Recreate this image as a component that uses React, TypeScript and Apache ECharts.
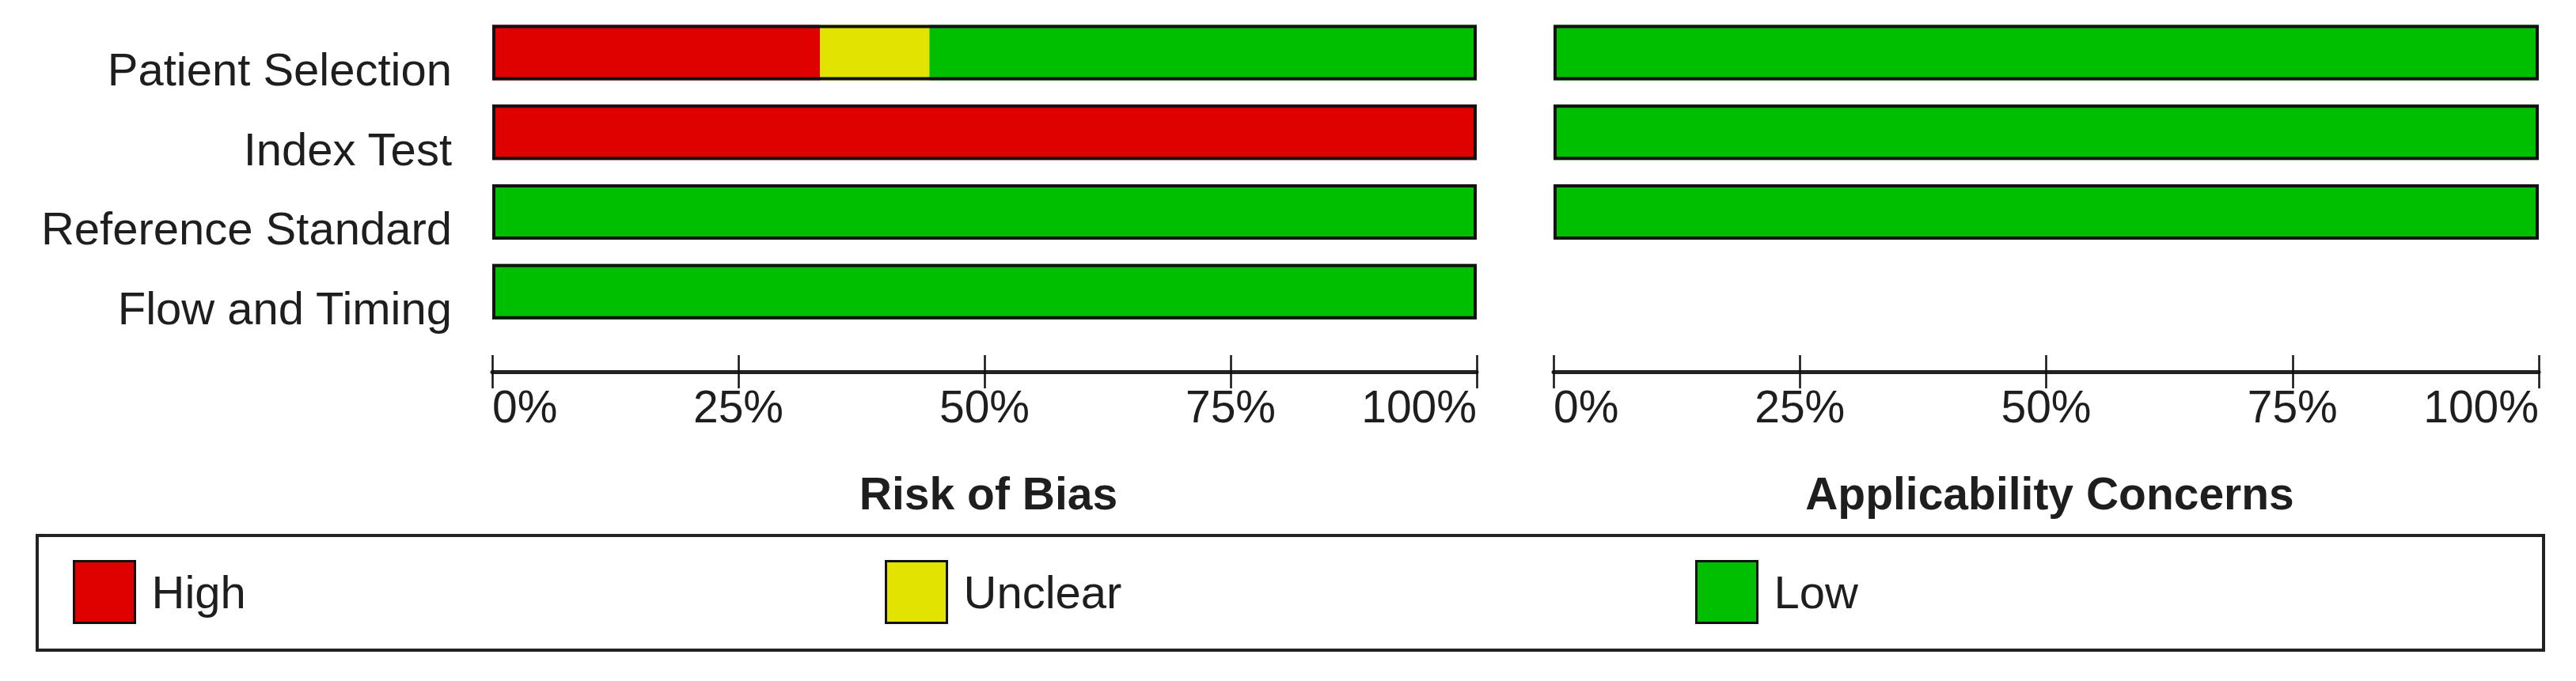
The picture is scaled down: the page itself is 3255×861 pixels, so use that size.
import React, { useEffect, useRef } from "react";
import * as echarts from "echarts";

const categories = ["Patient Selection", "Index Test", "Reference Standard", "Flow and Timing"];
const legendNames = ["High", "Unclear", "Low"];
const robHigh = [33.3, 100, 0, 0];
const robUnclear = [11.1, 0, 0, 0];
const robLow = [55.6, 0, 100, 100];
const acHigh = [0, 0, 0, null];
const acUnclear = [0, 0, 0, null];
const acLow = [100, 100, 100, null];
const tickValues = [0, 25, 50, 75, 100];
const panelTitles = ["Risk of Bias", "Applicability Concerns"];

const COLORS = { High: "#DF0000", Unclear: "#E3E300", Low: "#00BF00" };
const FONT = "'Liberation Sans', Arial, sans-serif";
const TEXT = "#1e1e1e";
const LEGEND_LEFT = [92, 1118, 2142];

const sumOf = (...arrs: (number | null)[][]) =>
  arrs[0].map((_, i) => {
    const vals = arrs.map((a) => a[i]);
    if (vals.every((v) => v === null)) return null;
    return vals.reduce((s: number, v) => s + (v ?? 0), 0);
  });

function mainAxis(g: number) {
  return {
    type: "value",
    gridIndex: g,
    min: tickValues[0],
    max: tickValues[tickValues.length - 1],
    interval: tickValues[1] - tickValues[0],
    position: "bottom",
    offset: 51,
    splitLine: { show: false },
    axisLine: { show: true, lineStyle: { color: "#222", width: 5 } },
    axisTick: { show: true, inside: true, length: 21, lineStyle: { color: "#111", width: 2.5 } },
    axisLabel: {
      formatter: "{value}%",
      fontSize: 57,
      fontFamily: FONT,
      color: TEXT,
      margin: 15,
      alignMinLabel: "left",
      alignMaxLabel: "right",
    },
  };
}

function downAxis(g: number) {
  return {
    type: "value",
    gridIndex: g,
    min: tickValues[0],
    max: tickValues[tickValues.length - 1],
    interval: tickValues[1] - tickValues[0],
    position: "bottom",
    offset: 51,
    splitLine: { show: false },
    axisLine: { show: false },
    axisTick: { show: true, inside: false, length: 21, lineStyle: { color: "#111", width: 2.5 } },
    axisLabel: { show: false },
  };
}

function segSeries(name: string, data: (number | null)[], xi: number, yi: number, stack: string) {
  return {
    type: "bar",
    name,
    data,
    xAxisIndex: xi,
    yAxisIndex: yi,
    stack,
    barWidth: 70,
    barGap: "-100%",
    silent: true,
    itemStyle: { color: (COLORS as any)[name], borderWidth: 0 },
  };
}

function outlineSeries(data: (number | null)[], xi: number, yi: number) {
  return {
    type: "bar",
    name: "outline",
    data,
    xAxisIndex: xi,
    yAxisIndex: yi,
    barWidth: 70,
    barGap: "-100%",
    silent: true,
    z: 3,
    itemStyle: { color: "rgba(0,0,0,0)", borderColor: "#111", borderWidth: 4 },
  };
}

export default function App() {
  const ref = useRef<HTMLDivElement>(null);
  useEffect(() => {
    if (!ref.current) return;
    const chart = echarts.init(ref.current, undefined, { renderer: "svg" });
    const option = {
      animation: false,
      backgroundColor: "#ffffff",
      title: panelTitles.map((t, i) => ({
        text: t,
        left: i === 0 ? 1244 : 2585,
        top: 590,
        textAlign: "center",
        textStyle: { fontSize: 57, fontWeight: "bold", fontFamily: FONT, color: TEXT },
      })),
      legend: legendNames.map((n, i) => ({
        data: [n],
        left: LEGEND_LEFT[i],
        top: 708,
        padding: 0,
        itemWidth: 77,
        itemHeight: 78,
        icon: "rect",
        selectedMode: false,
        itemStyle: { borderColor: "#111", borderWidth: 3 },
        textStyle: { fontSize: 58, fontFamily: FONT, color: TEXT, padding: [8, 0, 0, 16] },
      })),
      graphic: [
        {
          type: "rect",
          silent: true,
          shape: { x: 47, y: 677, width: 3167, height: 145 },
          style: { fill: "none", stroke: "#222", lineWidth: 4 },
        },
      ],
      grid: [
        { left: 622, top: 16, width: 1244, height: 403 },
        { left: 1963, top: 16, width: 1245, height: 403 },
      ],
      xAxis: [mainAxis(0), downAxis(0), mainAxis(1), downAxis(1)],
      yAxis: [
        {
          type: "category",
          gridIndex: 0,
          data: categories,
          inverse: true,
          axisLine: { show: false },
          axisTick: { show: false },
          splitLine: { show: false },
          axisLabel: {
            fontSize: 58,
            fontFamily: FONT,
            color: TEXT,
            margin: 51,
            verticalAlign: "top",
            lineHeight: 42,
          },
        },
        {
          type: "category",
          gridIndex: 1,
          data: categories,
          inverse: true,
          axisLine: { show: false },
          axisTick: { show: false },
          splitLine: { show: false },
          axisLabel: { show: false },
        },
      ],
      series: [
        segSeries("High", robHigh, 0, 0, "rob"),
        segSeries("Unclear", robUnclear, 0, 0, "rob"),
        segSeries("Low", robLow, 0, 0, "rob"),
        outlineSeries(sumOf(robHigh, robUnclear, robLow), 0, 0),
        segSeries("High", acHigh, 2, 1, "ac"),
        segSeries("Unclear", acUnclear, 2, 1, "ac"),
        segSeries("Low", acLow, 2, 1, "ac"),
        outlineSeries(sumOf(acHigh, acUnclear, acLow), 2, 1),
      ],
    };
    chart.setOption(option as any);
    return () => chart.dispose();
  }, []);
  return (
    <div
      ref={ref}
      style={{ position: "fixed", left: 0, top: 0, width: 3255, height: 861, background: "#fff" }}
    />
  );
}
